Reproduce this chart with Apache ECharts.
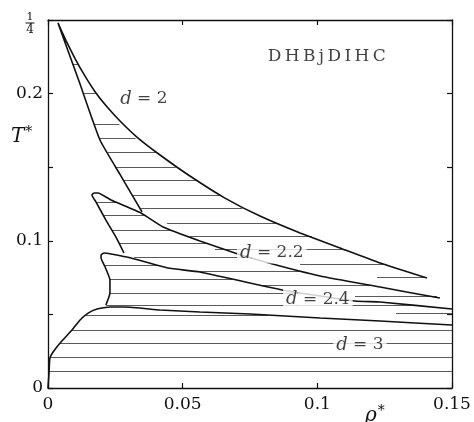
<!DOCTYPE html>
<html>
<head>
<meta charset="utf-8">
<script src="https://cdn.jsdelivr.net/npm/echarts@6/dist/echarts.min.js"></script>
<style>html,body{margin:0;padding:0;background:#fff}#c{width:474px;height:422px}</style>
</head>
<body>
<div id="c"></div>
<script>
// ---- tick labels ----
const xTickValues = [0, 0.05, 0.1, 0.15];
const xTickTexts = ['0', '0.05', '0.1', '0.15'];
const yTickValues = [0, 0.1, 0.2, 0.25];
const yTickTexts = ['0', '0.1', '0.2', '1/4'];

// ---- boundary curves (rho*, T*) ----
const d2Rho = [0.0349, 0.0271, 0.0193, 0.0115, 0.0037, 0.0067, 0.0100, 0.0137, 0.0178, 0.0223, 0.0271, 0.0330, 0.0416, 0.0527, 0.0657, 0.0787, 0.0936, 0.1084, 0.1233, 0.1407];
const d2T   = [0.1196, 0.1440, 0.1685, 0.2085, 0.2480, 0.2360, 0.2240, 0.2120, 0.2004, 0.1902, 0.1807, 0.1705, 0.1583, 0.1440, 0.1290, 0.1168, 0.1053, 0.0951, 0.0849, 0.0747];

const d22Rho = [0.0282, 0.0252, 0.0215, 0.0178, 0.0163, 0.0171, 0.0186, 0.0234, 0.0345, 0.0427, 0.0564, 0.0694, 0.0806, 0.1010, 0.1233, 0.1455];
const d22T   = [0.0917, 0.1026, 0.1141, 0.1264, 0.1311, 0.1325, 0.1325, 0.1277, 0.1189, 0.1094, 0.0999, 0.0917, 0.0856, 0.0761, 0.0686, 0.0611];

const d24Rho = [0.0215, 0.0230, 0.0230, 0.0212, 0.0197, 0.0197, 0.0208, 0.0234, 0.0308, 0.0445, 0.0564, 0.0869, 0.1140, 0.1233, 0.1500];
const d24T   = [0.0564, 0.0645, 0.0734, 0.0822, 0.0883, 0.0903, 0.0917, 0.0910, 0.0883, 0.0815, 0.0788, 0.0666, 0.0591, 0.0584, 0.0537];

const d3Rho = [0, 0.0004, 0.0007, 0.0019, 0.0045, 0.0089, 0.0119, 0.0149, 0.0182, 0.0230, 0.0286, 0.0416, 0.0564, 0.0750, 0.1010, 0.1233, 0.1500];
const d3T   = [0, 0.0109, 0.0204, 0.0245, 0.0306, 0.0394, 0.0462, 0.0509, 0.0537, 0.0550, 0.0550, 0.0530, 0.0516, 0.0503, 0.0476, 0.0455, 0.0428];

// ---- tie lines (T*, rho left, rho right) ----
const d2TieT = [0.220, 0.200, 0.179, 0.170, 0.160, 0.150, 0.141, 0.131, 0.122, 0.112, 0.103, 0.094, 0.084, 0.075];
const d2TieL = [0.0093, 0.0134, 0.0171, 0.0189, 0.0223, 0.0252, 0.0282, 0.0312, 0.0342, 0.0442, 0.0527, 0.0620, 0.0936, 0.1222];
const d2TieR = [0.0113, 0.0177, 0.0265, 0.0325, 0.0400, 0.0474, 0.0549, 0.0640, 0.0721, 0.0846, 0.0980, 0.1105, 0.1250, 0.1403];

const d22TieT = [0.126, 0.1175, 0.107, 0.098, 0.089, 0.0795, 0.070, 0.062];
const d22TieL = [0.0178, 0.0205, 0.0238, 0.0265, 0.0320, 0.0546, 0.0795, 0.1140];
const d22TieR = [0.0255, 0.0357, 0.0462, 0.0594, 0.0744, 0.0936, 0.1195, 0.1444];

const d24TieT = [0.0836, 0.074, 0.0645, 0.0564, 0.051];
const d24TieL = [0.0209, 0.0229, 0.0230, 0.0215, 0.1292];
const d24TieR = [0.0403, 0.0684, 0.0945, 0.1347, 0.1500];

const d3TieT = [0.0496, 0.0394, 0.0306, 0.0211, 0.0115];
const d3TieL = [0.0141, 0.0089, 0.0045, 0.0009, 0.0004];
const d3TieR = [0.0817, 0.1500, 0.1500, 0.1500, 0.1500];

// ---- annotations ----
const labelTexts = ['d = 2', 'd = 2.2', 'd = 2.4', 'd = 3', 'DHBjDIHC'];
const labelRho   = [0.0356, 0.0831, 0.1002, 0.1158, 0.1035];
const labelT     = [0.1963, 0.0917, 0.0604, 0.0292, 0.2250];

const FONT = 'DejaVu Serif';
const INK = '#111';

function pairs(xs, ys) { return xs.map((x, i) => [x, ys[i]]); }
function ties(ts, ls, rs) { return ts.map((t, i) => ({ coords: [[ls[i], t], [rs[i], t]] })); }
function near(a, b) { return Math.abs(a - b) < 1e-9; }

function curve(name, xs, ys) {
  return {
    type: 'line', name: name, data: pairs(xs, ys), showSymbol: false, symbol: 'none',
    smooth: 0.15, lineStyle: { color: INK, width: 1.6 }, z: 3, silent: true, animation: false
  };
}
function tieSeries(ts, ls, rs) {
  return {
    type: 'lines', coordinateSystem: 'cartesian2d', data: ties(ts, ls, rs),
    lineStyle: { color: '#5a5a5a', width: 1, opacity: 1 }, z: 2, silent: true, animation: false
  };
}

const chart = echarts.init(document.getElementById('c'), null, { renderer: 'canvas' });

const axisCommon = {
  type: 'value', splitLine: { show: false },
  axisLine: { show: true, onZero: false, lineStyle: { color: INK, width: 1.3 } },
  axisTick: { show: true, inside: true, length: 5, lineStyle: { color: INK, width: 1.2 } }
};

function tickText(vals, texts, v) {
  const i = vals.findIndex(t => near(t, v));
  if (i < 0) return '';
  return texts[i].indexOf('/') > 0 ? '' : texts[i];
}

chart.setOption({
  animation: false,
  backgroundColor: '#fff',
  grid: { left: 48, right: 22, top: 20, bottom: 34, containLabel: false },
  xAxis: [
    Object.assign({}, axisCommon, {
      position: 'bottom', min: 0, max: 0.15, interval: 0.05,
      axisLabel: { show: true, margin: 8, color: INK, fontFamily: FONT, fontSize: 17,
        formatter: v => tickText(xTickValues, xTickTexts, v) }
    }),
    Object.assign({}, axisCommon, { position: 'top', min: 0, max: 0.15, interval: 0.05, axisLabel: { show: false } })
  ],
  yAxis: [
    Object.assign({}, axisCommon, {
      position: 'left', min: 0, max: 0.25, interval: 0.05,
      axisLabel: { show: true, margin: 5, color: INK, fontFamily: FONT, fontSize: 17,
        formatter: v => tickText(yTickValues, yTickTexts, v) }
    }),
    Object.assign({}, axisCommon, { position: 'right', min: 0, max: 0.25, interval: 0.05, axisLabel: { show: false } })
  ],
  series: [
    tieSeries(d2TieT, d2TieL, d2TieR),
    tieSeries(d22TieT, d22TieL, d22TieR),
    tieSeries(d24TieT, d24TieL, d24TieR),
    tieSeries(d3TieT, d3TieL, d3TieR),
    curve('d=2', d2Rho, d2T),
    curve('d=2.2', d22Rho, d22T),
    curve('d=2.4', d24Rho, d24T),
    curve('d=3', d3Rho, d3T),
    {
      type: 'scatter', symbolSize: 1, itemStyle: { color: 'rgba(0,0,0,0)' }, z: 5, silent: true, animation: false,
      data: labelTexts.map((s, i) => ({ value: [labelRho[i], labelT[i]], name: s })),
      label: {
        show: true, position: 'inside',
        formatter: p => {
          const s = p.name;
          if (s.indexOf('d = ') === 0) return '{i|d}{r|' + s.slice(1) + '}';
          return '{c|' + s.split('').join('\u2009') + '}';
        },
        rich: {
          i: { fontFamily: FONT, fontStyle: 'italic', fontSize: 18, color: INK, backgroundColor: '#fff', padding: [2, 0, 2, 3] },
          r: { fontFamily: FONT, fontSize: 17, color: INK, backgroundColor: '#fff', padding: [2, 3, 2, 0] },
          c: { fontFamily: FONT, fontSize: 17, color: INK }
        }
      }
    }
  ]
});

// fraction tick label (1/4) and axis titles, placed from the axes' own scale
const fracIdx = yTickTexts.findIndex(s => s.indexOf('/') > 0);
const frac = yTickTexts[fracIdx].split('/');
const yTop = chart.convertToPixel({ yAxisIndex: 0 }, yTickValues[fracIdx]);
const xLeft = chart.convertToPixel({ xAxisIndex: 0 }, 0);
const fx = xLeft - 18;
chart.setOption({
  graphic: [
    { type: 'text', x: fx, y: yTop - 3, z: 10,
      style: { text: frac[0], fontFamily: FONT, fontSize: 11, fill: INK, align: 'center', verticalAlign: 'middle' } },
    { type: 'line', z: 10, shape: { x1: fx - 4.5, y1: yTop + 3, x2: fx + 4.5, y2: yTop + 3 },
      style: { stroke: INK, lineWidth: 1 } },
    { type: 'text', x: fx, y: yTop + 10, z: 10,
      style: { text: frac[1], fontFamily: FONT, fontSize: 12, fill: INK, align: 'center', verticalAlign: 'middle' } },
    {
      type: 'text', left: 11, top: 125, z: 10,
      style: {
        text: '{t|T}{s|*}',
        rich: {
          t: { fontFamily: FONT, fontStyle: 'italic', fontSize: 20, fill: INK },
          s: { fontFamily: FONT, fontSize: 14, fill: INK, padding: [0, 0, 9, 1] }
        }
      }
    },
    {
      type: 'text', left: 365, top: 404, z: 10,
      style: {
        text: '{t|ρ}{s|*}',
        rich: {
          t: { fontFamily: FONT, fontStyle: 'italic', fontSize: 20, fill: INK },
          s: { fontFamily: FONT, fontSize: 14, fill: INK, padding: [0, 0, 10, 1] }
        }
      }
    }
  ]
});
</script>
</body>
</html>
